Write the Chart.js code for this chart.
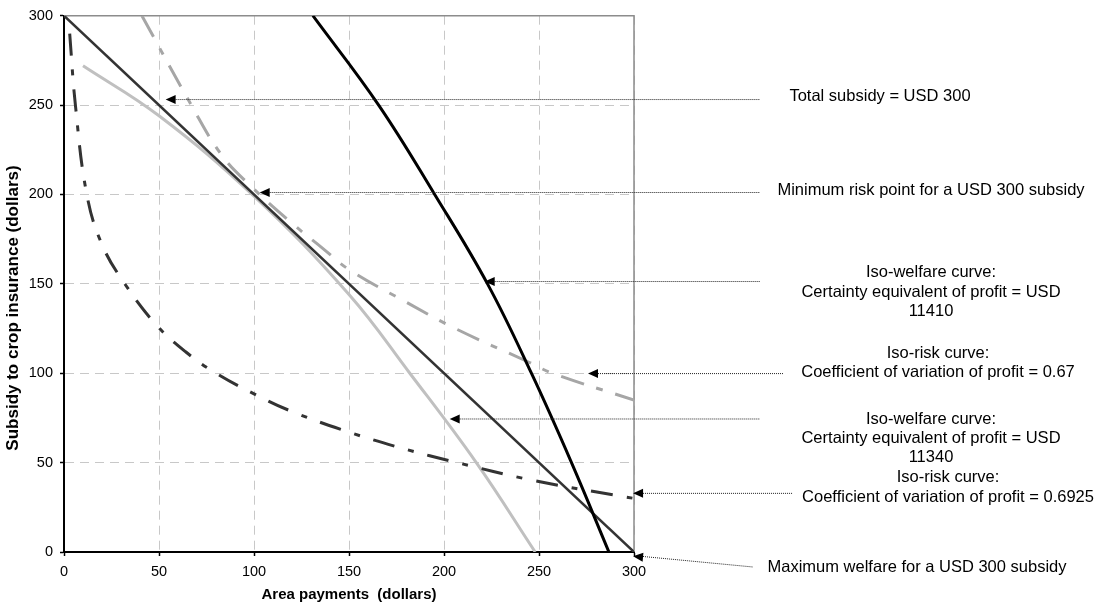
<!DOCTYPE html>
<html>
<head>
<meta charset="utf-8">
<script src="https://cdn.jsdelivr.net/npm/chart.js@4.4.1/dist/chart.umd.min.js"></script>
<style>
  body { margin: 0; background: #fff; }
  #wrap { width: 1099px; height: 606px; }
</style>
</head>
<body>
<div id="wrap"><canvas id="subsidyChart" width="1099" height="606"></canvas></div>
<script>
// Area payments (x) vs subsidy to crop insurance (y), both in dollars
const xTicks = [0, 50, 100, 150, 200, 250, 300];
const yTicks = [0, 50, 100, 150, 200, 250, 300];

// Total subsidy = USD 300
const totalX = [0, 300];
const totalY = [300, 0];

// Iso-welfare curve, certainty equivalent USD 11410
const welfareHighX = [131, 165.6, 195.1, 222.9, 246, 267.1, 286.8];
const welfareHighY = [300, 250, 200, 150, 100, 50, 0];

// Iso-risk curve, CV 0.67
const riskHighX = [41, 67, 83, 98, 121, 136, 150, 178, 206, 245, 257, 300];
const riskHighY = [300, 250, 222, 205, 183, 170, 158, 141, 125, 106, 100, 85];

// Iso-welfare curve, certainty equivalent USD 11340
const welfareLowX = [10, 50, 100, 150, 182, 217, 248];
const welfareLowY = [272, 244, 199, 144, 100, 50, 0];

// Iso-risk curve, CV 0.6925
const riskLowX = [3, 6, 12, 20, 32, 48.6, 64, 80, 100, 119, 149, 178, 207, 245, 294, 300];
const riskLowY = [290, 250, 200, 172, 150, 127, 112, 100, 88.5, 79, 67.4, 58, 50, 40.5, 31, 30];

// callouts: text and the point each arrow points at (data units)
const noteText = [
    ['Total subsidy = USD 300'],
    ['Minimum risk point for a USD 300 subsidy'],
    ['Iso-welfare curve:', 'Certainty equivalent of profit = USD', '11410'],
    ['Iso-risk curve:', 'Coefficient of variation of profit = 0.67'],
    ['Iso-welfare curve:', 'Certainty equivalent of profit = USD', '11340'],
    ['Iso-risk curve:', 'Coefficient of variation of profit = 0.6925'],
    ['Maximum welfare for a USD 300 subsidy']
];
const noteX = [53.5, 103, 221.4, 275.8, 203, 299.5, 299.5];
const noteY = [253.1, 201.1, 151.3, 99.8, 74.4, 32.8, -2.4];

// where the dotted leaders end and the text sits (pixels, right margin)
const noteLayout = [
    { endX: 760, textX: 880, textY: [96] },
    { endX: 760, textX: 931, textY: [190] },
    { endX: 760, textX: 931, textY: [272, 292, 311] },
    { endX: 783, textX: 938, textY: [353, 372] },
    { endX: 760, textX: 931, textY: [419, 438, 457] },
    { endX: 793, textX: 948, textY: [477, 497] },
    { endX: 753, endY: 567, textX: 917, textY: [567] }
];

const FONT = '"Liberation Sans", Arial, sans-serif';

function toPoints(xs, ys) {
    return xs.map((x, i) => ({ x: x, y: ys[i] }));
}

// frame (grey top/right), y title, callouts
const extras = {
    id: 'extras',
    beforeDatasetsDraw(chart) {
        const { ctx, chartArea: a } = chart;
        ctx.save();
        ctx.strokeStyle = '#8c8c8c';
        ctx.lineWidth = 1.5;
        ctx.beginPath();
        ctx.moveTo(a.left, a.top);
        ctx.lineTo(a.right, a.top);
        ctx.lineTo(a.right, a.bottom);
        ctx.stroke();
        ctx.restore();
    },
    afterDraw(chart) {
        const { ctx } = chart;
        const xs = chart.scales.x, ys = chart.scales.y;
        ctx.save();

        // y axis title
        ctx.translate(13, 308);
        ctx.rotate(-Math.PI / 2);
        ctx.font = 'bold 17px ' + FONT;
        ctx.fillStyle = '#000';
        ctx.textAlign = 'center';
        ctx.textBaseline = 'middle';
        ctx.fillText('Subsidy to crop insurance (dollars)', 0, 0);
        ctx.setTransform(1, 0, 0, 1, 0, 0);

        noteText.forEach((lines, i) => {
            const px = xs.getPixelForValue(noteX[i]);
            const py = ys.getPixelForValue(noteY[i]);
            const lay = noteLayout[i];
            const ex = lay.endX, ey = lay.endY !== undefined ? lay.endY : py;

            // dotted leader
            ctx.strokeStyle = '#222';
            ctx.lineWidth = 1;
            ctx.setLineDash([1, 1]);
            ctx.beginPath();
            ctx.moveTo(px + 8, py);
            ctx.lineTo(ex, ey);
            ctx.stroke();
            ctx.setLineDash([]);

            // arrow head
            const ang = Math.atan2(ey - py, ex - px);
            ctx.fillStyle = '#000';
            ctx.beginPath();
            ctx.moveTo(px, py);
            ctx.lineTo(px + 10 * Math.cos(ang) - 4.5 * Math.sin(ang), py + 10 * Math.sin(ang) + 4.5 * Math.cos(ang));
            ctx.lineTo(px + 10 * Math.cos(ang) + 4.5 * Math.sin(ang), py + 10 * Math.sin(ang) - 4.5 * Math.cos(ang));
            ctx.closePath();
            ctx.fill();

            // text
            ctx.font = '16.5px ' + FONT;
            ctx.textAlign = 'center';
            ctx.textBaseline = 'middle';
            lines.forEach((t, j) => ctx.fillText(t, lay.textX, lay.textY[j]));
        });
        ctx.restore();
    }
};

const gridColor = '#c8c8c8';

new Chart(document.getElementById('subsidyChart'), {
    type: 'line',
    data: {
        datasets: [
            {
                label: 'Iso-welfare 11410',
                data: toPoints(welfareHighX, welfareHighY),
                borderColor: '#000000',
                borderWidth: 3,
                tension: 0.4
            },
            {
                label: 'Total subsidy = USD 300',
                data: toPoints(totalX, totalY),
                borderColor: '#333333',
                borderWidth: 2.5,
                tension: 0
            },
            {
                label: 'Iso-risk 0.6925',
                data: toPoints(riskLowX, riskLowY),
                borderColor: '#333333',
                borderWidth: 3,
                borderDash: [22, 14, 6, 14],
                tension: 0.4
            },
            {
                label: 'Iso-risk 0.67',
                data: toPoints(riskHighX, riskHighY),
                borderColor: '#a6a6a6',
                borderWidth: 3,
                borderDash: [24, 13, 7, 13],
                tension: 0.4
            },
            {
                label: 'Iso-welfare 11340',
                data: toPoints(welfareLowX, welfareLowY),
                borderColor: '#c0c0c0',
                borderWidth: 3,
                tension: 0.4
            }
        ]
    },
    options: {
        responsive: false,
        animation: false,
        events: [],
        elements: { point: { radius: 0 }, line: { borderCapStyle: 'butt' } },
        layout: { padding: { top: 12, right: 465, bottom: 0, left: 0 } },
        plugins: {
            legend: { display: false },
            tooltip: { enabled: false }
        },
        scales: {
            x: {
                type: 'linear',
                min: 0,
                max: 300,
                afterFit: s => { s.height = 54; },
                afterBuildTicks: s => { s.ticks = xTicks.map(v => ({ value: v })); },
                ticks: { color: '#000', padding: 7, font: { family: FONT, size: 14.5 } },
                grid: {
                    color: ctx => (ctx.tick && ctx.tick.value === 0 ? 'transparent' : gridColor),
                    lineWidth: 1,
                    tickLength: 4,
                    tickColor: '#000',
                    tickWidth: 1.5
                },
                border: { color: '#000', width: 2, dash: [9, 6] },
                title: {
                    display: true,
                    text: 'Area payments  (dollars)',
                    color: '#000',
                    padding: { top: 0, bottom: 2 },
                    font: { family: FONT, size: 15, weight: 'bold' }
                }
            },
            y: {
                min: 0,
                max: 300,
                afterFit: s => { s.width = 64; },
                afterBuildTicks: s => { s.ticks = yTicks.map(v => ({ value: v })); },
                ticks: { color: '#000', padding: 7, font: { family: FONT, size: 14.5 } },
                grid: {
                    color: ctx => (ctx.tick && ctx.tick.value === 0 ? 'transparent' : gridColor),
                    lineWidth: 1,
                    tickLength: 4,
                    tickColor: '#000',
                    tickWidth: 1.5
                },
                border: { color: '#000', width: 2, dash: [9, 6] }
            }
        }
    },
    plugins: [extras]
});
</script>
</body>
</html>
